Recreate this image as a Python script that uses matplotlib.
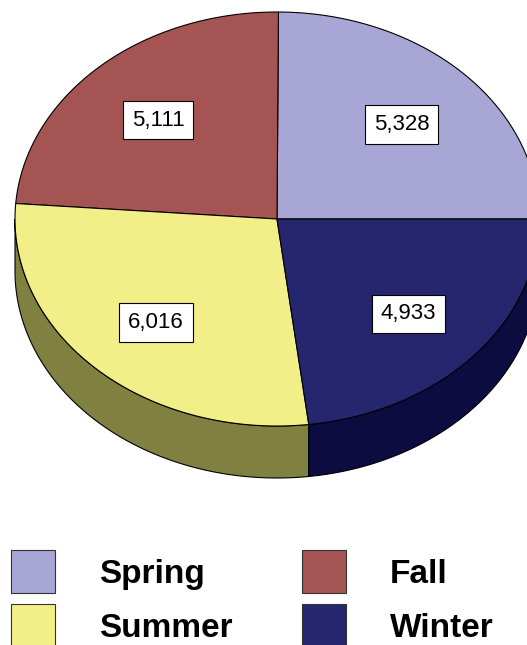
import numpy as np
import matplotlib.pyplot as plt
from matplotlib.patches import Polygon, Rectangle

plt.rcParams['font.family'] = ['Liberation Sans', 'DejaVu Sans']

seasons = ['Spring', 'Fall', 'Summer', 'Winter']
counts = [5328, 5111, 6016, 4933]
top_colors = ['#A8A6D4', '#A55454', '#F2EE88', '#26266E']
side_colors = ['#545470', '#522A2A', '#808040', '#0C0C40']

legend_order = ['Spring', 'Fall', 'Summer', 'Winter']

# pie geometry in pixels
cx, cy = 277, 219
rx, ry = 262, 207
depth = 52


def ellipse_pts(t0, t1, dy=0, n=200):
    t = np.radians(np.linspace(t0, t1, n))
    return np.column_stack([cx + rx * np.cos(t), cy - ry * np.sin(t) + dy])


fig = plt.figure(figsize=(5.27, 6.45), dpi=100)
ax = fig.add_axes([0, 0, 1, 1])
ax.set_xlim(0, 527)
ax.set_ylim(645, 0)
ax.axis('off')

total = sum(counts)
angles = np.concatenate([[0], np.cumsum(counts) / total * 360])

# side walls (only the front half is visible)
for i in range(len(counts)):
    a0, a1 = max(angles[i], 180), min(angles[i + 1], 360)
    if a1 <= a0:
        continue
    top = ellipse_pts(a0, a1)
    bottom = ellipse_pts(a1, a0, dy=depth)
    ax.add_patch(Polygon(np.vstack([top, bottom]), closed=True,
                         facecolor=side_colors[i], edgecolor='black', lw=0.8))

# top face
for i in range(len(counts)):
    arc = ellipse_pts(angles[i], angles[i + 1])
    pts = np.vstack([[cx, cy], arc])
    ax.add_patch(Polygon(pts, closed=True, facecolor=top_colors[i],
                         edgecolor='black', lw=0.8))

# value labels
for i, v in enumerate(counts):
    mid = np.radians((angles[i] + angles[i + 1]) / 2)
    x = cx + 0.67 * rx * np.cos(mid)
    y = cy - 0.67 * ry * np.sin(mid) + 3
    ax.text(x, y, '{:,}'.format(v), ha='center', va='center', fontsize=16,
            bbox=dict(boxstyle='square,pad=0.4', facecolor='white',
                      edgecolor='black', lw=0.8))

# legend
for k, name in enumerate(legend_order):
    i = seasons.index(name)
    col, row = k % 2, k // 2
    x0 = 11 + col * 291
    y0 = 550 + row * 54
    ax.add_patch(Rectangle((x0, y0), 44, 43, facecolor=top_colors[i],
                           edgecolor='#333333', lw=0.8))
    ax.text(x0 + 88, y0 + 33, name, fontsize=24, fontweight='bold',
            ha='left', va='baseline')

fig.savefig('out.png', dpi=100)
